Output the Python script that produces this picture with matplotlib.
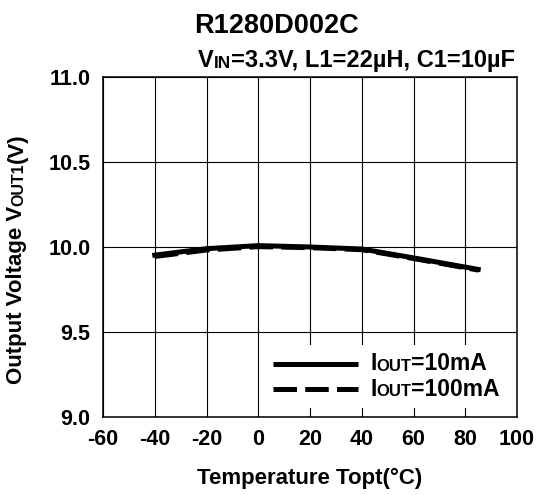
import matplotlib
matplotlib.use("Agg")
import matplotlib.pyplot as plt
from matplotlib.patches import Rectangle

plt.rcParams['font.family'] = ['Liberation Sans', 'DejaVu Sans']
plt.rcParams['axes.unicode_minus'] = False

# data
temp = [-40, -20, 0, 20, 40, 60, 85]
vout_10ma = [9.952, 9.990, 10.008, 10.000, 9.988, 9.936, 9.868]
vout_100ma = [9.944, 9.982, 10.002, 9.996, 9.984, 9.932, 9.864]
xticks = [-60, -40, -20, 0, 20, 40, 60, 80, 100]
yticks = [9.0, 9.5, 10.0, 10.5, 11.0]
ytick_labels = ['9.0', '9.5', '10.0', '10.5', '11.0']

DESC = 0.21  # descent of the font, in em (used to line up baselines)

fig = plt.figure(figsize=(5.37, 4.95), dpi=100)
ax = fig.add_axes((0.1918, 0.1576, 0.771, 0.6869))

ax.set_axisbelow(True)
ax.grid(True, color='black', linewidth=0.8)
ax.plot(temp, vout_100ma, color='black', linewidth=3.6, linestyle=(0, (4.7, 1.65)), zorder=3)
ax.plot(temp, vout_10ma, color='black', linewidth=3.6, zorder=4)

ax.set_xlim(-60, 100)
ax.set_ylim(9.0, 11.0)
ax.set_xticks(xticks)
ax.set_yticks(yticks)
ax.set_yticklabels(ytick_labels)
ax.tick_params(length=0, labelsize=15.5)
ax.tick_params(axis='y', pad=9)
ax.tick_params(axis='x', pad=9)
for lab in ax.get_xticklabels() + ax.get_yticklabels():
    lab.set_fontweight('bold')
for s in ax.spines.values():
    s.set_linewidth(1.1)
    s.set_zorder(6)

ax.set_xlabel('Temperature Topt(°C)', fontsize=16, fontweight='bold', labelpad=12.5)


def chain(first, size0, parts, rotation=0):
    # place text pieces one after the other (for small caps), baselines lined up
    prev, psize = first, size0
    for txt, size in parts:
        off = DESC * (psize - size)
        if rotation == 0:
            prev = ax.annotate(txt, xy=(1, 0), xycoords=prev, ha='left', va='bottom',
                               xytext=(0, off), textcoords='offset points',
                               fontsize=size, fontweight=first.get_fontweight())
        else:
            prev = ax.annotate(txt, xy=(1, 1), xycoords=prev, ha='right', va='bottom',
                               xytext=(-off, 0), textcoords='offset points',
                               fontsize=size, fontweight=first.get_fontweight(), rotation=90)
        psize = size
    return prev


# y label with small caps
t = fig.text(0.012, 1 - 384 / 495, 'Output Voltage V', rotation=90, fontsize=16,
             fontweight='bold', ha='left', va='bottom')
chain(t, 16, [('OUT1', 11.5), ('(V)', 16)], rotation=90)

# title and condition line
fig.text(0.514, 1 - 33 / 495, 'R1280D002C', fontsize=19.5, fontweight='bold',
         ha='center', va='baseline')

sub = [('V', 17), ('IN', 12.3), ('=3.3V, L1=22µH, C1=10µF', 17)]
prev = fig.text(0.959, 1 - 67 / 495, sub[-1][0], fontsize=sub[-1][1], fontweight='bold',
                ha='right', va='baseline')
psize = sub[-1][1]
for txt, size in reversed(sub[:-1]):
    prev = ax.annotate(txt, xy=(0, 0), xycoords=prev, ha='right', va='bottom',
                       xytext=(0, DESC * (psize - size)), textcoords='offset points',
                       fontsize=size, fontweight='bold')
    psize = size

# legend drawn by hand
ax.add_patch(Rectangle((0.391, 0.026), 0.605, 0.186, transform=ax.transAxes,
                       facecolor='white', edgecolor='none', zorder=1))
ax.plot([0.411, 0.616], [0.156, 0.156], transform=ax.transAxes, color='black',
        linewidth=3.6, solid_capstyle='butt', zorder=5)
ax.plot([0.411, 0.616], [0.082, 0.082], transform=ax.transAxes, color='black',
        linewidth=3.6, linestyle=(0, (4.7, 1.65)), zorder=5)
for yy, rest in [(0.156, '=10mA'), (0.082, '=100mA')]:
    t = ax.text(0.645, yy, 'I', transform=ax.transAxes, fontsize=16.5,
                fontweight='bold', ha='left', va='center')
    chain(t, 16.5, [('OUT', 12), (rest, 16.5)])

fig.savefig('out.png', dpi=100)
